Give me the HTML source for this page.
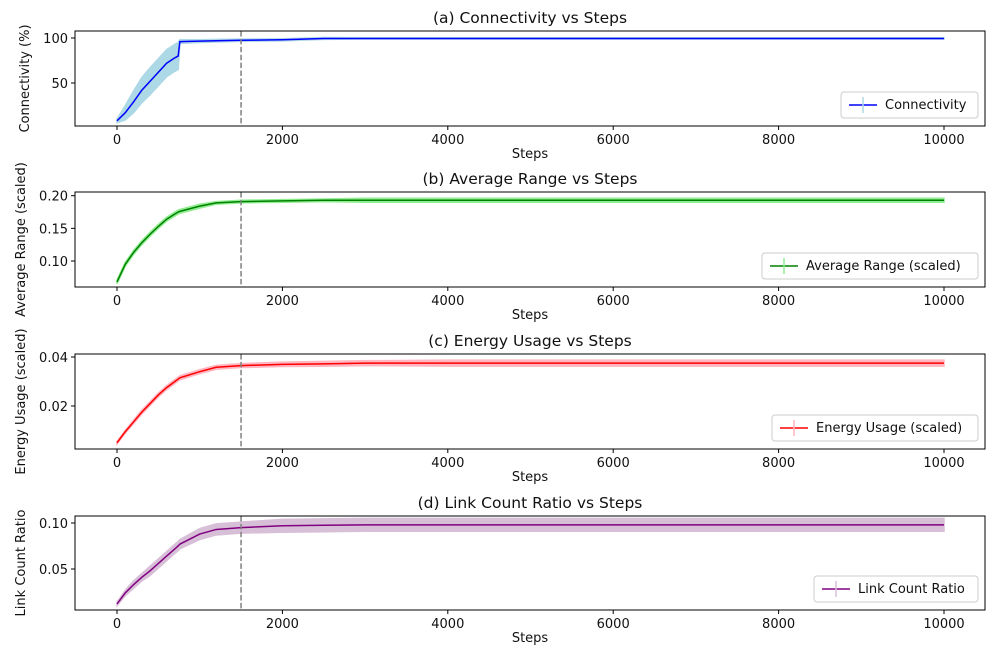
<!DOCTYPE html>
<html><head><meta charset="utf-8"><style>
body{margin:0;background:#fff;font-family:"Liberation Sans","DejaVu Sans",sans-serif}
svg text{font-family:"DejaVu Sans","Liberation Sans",sans-serif;fill:#111}
</style></head><body>
<svg id="c" width="1000" height="658" xmlns="http://www.w3.org/2000/svg"></svg>
<script>
const steps=[0,100,200,300,400,500,600,700,740,760,1000,1200,1500,2000,2500,3000,4000,5000,6000,7000,8000,9000,10000];
const connMean=[8,17,29,42,52,62,72,78,80,96,96.5,97,97.5,98,99.5,99.5,99.5,99.5,99.5,99.5,99.5,99.5,99.5];
const connErr=[2,8,12,14,15,15,15,15,15,2,1.5,1.5,1.2,1.2,1,0.8,0.8,0.8,0.8,0.8,0.8,0.8,0.8];
const rangeMean=[0.068,0.095,0.113,0.128,0.141,0.153,0.164,0.172,0.175,0.176,0.184,0.189,0.191,0.192,0.193,0.193,0.193,0.193,0.193,0.193,0.193,0.193,0.193];
const rangeErr=[0.003,0.003,0.003,0.003,0.003,0.003,0.003,0.003,0.003,0.003,0.003,0.002,0.002,0.002,0.002,0.003,0.003,0.003,0.003,0.003,0.003,0.003,0.003];
const energyMean=[0.005,0.0095,0.0135,0.0175,0.021,0.0245,0.0275,0.030,0.031,0.0315,0.034,0.0358,0.0365,0.037,0.0372,0.0375,0.0375,0.0375,0.0375,0.0375,0.0375,0.0375,0.0375];
const energyErr=[0.0005,0.0006,0.0007,0.0008,0.0008,0.0008,0.0008,0.0008,0.0008,0.0008,0.0008,0.0008,0.0008,0.0009,0.001,0.001,0.0012,0.0012,0.0012,0.0012,0.0012,0.0012,0.0012];
const linkMean=[0.012,0.024,0.033,0.041,0.048,0.056,0.064,0.072,0.075,0.077,0.088,0.093,0.095,0.097,0.0975,0.098,0.098,0.098,0.098,0.098,0.098,0.098,0.098];
const linkErr=[0.002,0.003,0.004,0.004,0.005,0.005,0.005,0.005,0.005,0.005,0.006,0.006,0.006,0.007,0.007,0.007,0.007,0.007,0.007,0.007,0.007,0.007,0.007];
const xTicks=[0,2000,4000,6000,8000,10000];
const vline=1500;

const NS="http://www.w3.org/2000/svg",svg=document.getElementById('c');
function mk(t,a,p){const e=document.createElementNS(NS,t);for(const k in a)e.setAttribute(k,a[k]);(p||svg).appendChild(e);return e;}
const X=s=>117+s*(944-117)/10000;
const L=75,R=985;
const panels=[
 {name:'connectivity',title:'(a) Connectivity vs Steps',ylab:'Connectivity (%)',top:31,bot:126,v0:100,y0:38,v1:50,y1:83,ticks:[50,100],fmt:v=>String(v),mean:connMean,err:connErr,line:'#0000ff',fill:'#add8e6',leg:'Connectivity',lx:841,lw:137},
 {name:'average-range',title:'(b) Average Range vs Steps',ylab:'Average Range (scaled)',top:192,bot:287,v0:0.2,y0:195.7,v1:0.1,y1:261,ticks:[0.1,0.15,0.2],fmt:v=>v.toFixed(2),mean:rangeMean,err:rangeErr,line:'#008000',fill:'#90ee90',leg:'Average Range (scaled)',lx:762,lw:216},
 {name:'energy-usage',title:'(c) Energy Usage vs Steps',ylab:'Energy Usage (scaled)',top:354,bot:449,v0:0.04,y0:357,v1:0.02,y1:406,ticks:[0.02,0.04],fmt:v=>v.toFixed(2),mean:energyMean,err:energyErr,line:'#ff0000',fill:'#ffb6c1',leg:'Energy Usage (scaled)',lx:772,lw:206},
 {name:'link-count-ratio',title:'(d) Link Count Ratio vs Steps',ylab:'Link Count Ratio',top:516,bot:610,v0:0.1,y0:523,v1:0.05,y1:569,ticks:[0.05,0.1],fmt:v=>v.toFixed(2),mean:linkMean,err:linkErr,line:'#800080',fill:'#d8bfd8',leg:'Link Count Ratio',lx:814,lw:164}
];
panels.forEach(p=>{
 const g=mk('g',{});
 
 
 const Y=v=>p.y0+(v-p.v0)*(p.y1-p.y0)/(p.v1-p.v0);
 let up=steps.map((s,i)=>X(s)+','+Y(p.mean[i]+p.err[i]));
 let dn=steps.map((s,i)=>X(s)+','+Y(p.mean[i]-p.err[i])).reverse();
 const band=mk('polygon',{points:up.concat(dn).join(' '),fill:p.fill,stroke:p.fill,'stroke-width':1.5},g);
 
 
 const ln=mk('polyline',{points:steps.map((s,i)=>X(s)+','+Y(p.mean[i])).join(' '),fill:'none',stroke:p.line,'stroke-width':1.5},g);
 
 
 const vl=mk('line',{x1:X(vline),x2:X(vline),y1:p.top,y2:p.bot,stroke:'#808080','stroke-width':1.5,'stroke-dasharray':'5.5,2.4'},g);
 
 
 mk('rect',{x:L,y:p.top,width:R-L,height:p.bot-p.top,fill:'none',stroke:'#000','stroke-width':1},g);
 xTicks.forEach(t=>{mk('line',{x1:X(t),x2:X(t),y1:p.bot,y2:p.bot+4,stroke:'#000'},g);
  const tx=mk('text',{x:X(t),y:p.bot+18,'text-anchor':'middle','font-size':13},g);tx.textContent=t;
  });
 p.ticks.forEach(t=>{mk('line',{x1:L-4,x2:L,y1:Y(t),y2:Y(t),stroke:'#000'},g);
  const tx=mk('text',{x:L-7,y:Y(t)+5,'text-anchor':'end','font-size':13},g);tx.textContent=p.fmt(t);
  });
 const xl=mk('text',{x:530,y:p.bot+32,'text-anchor':'middle','font-size':13},g);xl.textContent='Steps';
 
 const yl=mk('text',{x:0,y:0,'text-anchor':'middle','font-size':13,transform:`translate(${p.name==='connectivity'?29:25},${(p.top+p.bot)/2}) rotate(-90)`},g);yl.textContent=p.ylab;
 
 const ti=mk('text',{x:530,y:p.top-8,'text-anchor':'middle','font-size':15.5},g);ti.textContent=p.title;
 
 const lg=mk('g',{},g);
 
 const ly=p.bot-34;
 mk('rect',{x:p.lx,y:ly,width:p.lw,height:26,rx:3,fill:'#fff','fill-opacity':0.8,stroke:'#ccc'},lg);
 mk('line',{x1:p.lx+8,x2:p.lx+36,y1:ly+13,y2:ly+13,stroke:p.line,'stroke-width':1.5},lg);
 mk('line',{x1:p.lx+22,x2:p.lx+22,y1:ly+5,y2:ly+21,stroke:p.fill,'stroke-width':1.5},lg);
 const lt=mk('text',{x:p.lx+44,y:ly+17,'font-size':13},lg);lt.textContent=p.leg;
 
});
</script>
</body></html>
